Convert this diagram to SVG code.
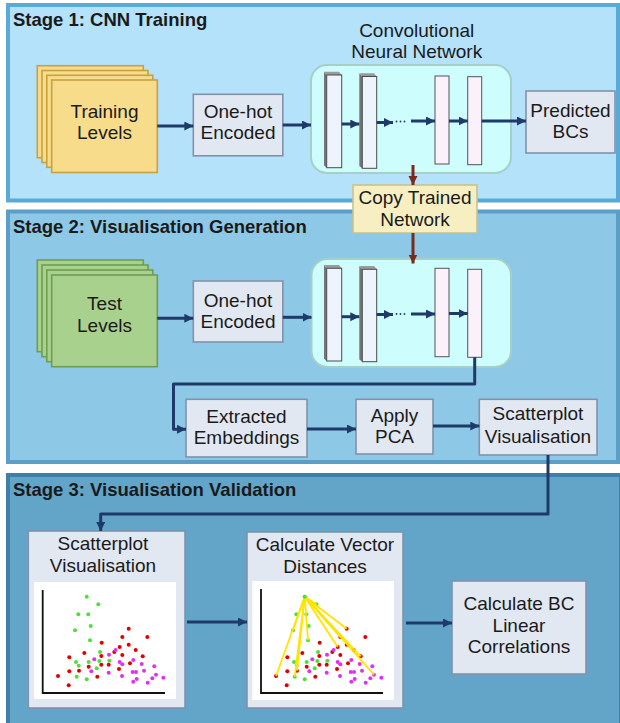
<svg xmlns="http://www.w3.org/2000/svg" xmlns:xlink="http://www.w3.org/1999/xlink" width="620" height="723" viewBox="0 0 620 723">
<style>
text{font-family:"Liberation Sans",Arial,sans-serif;fill:#1a1a1a;}
.t{font-size:19px;text-anchor:middle;}
.h{font-size:18.5px;font-weight:bold;}
.box{fill:#e2e8f1;stroke:#8292aa;stroke-width:1.6;}
.cnn{fill:#cdfdfd;stroke:#a6cfc6;stroke-width:2;}
.yl{fill:#f7dc8c;stroke:#c8a23c;stroke-width:1.6;}
.gr{fill:#a9d18e;stroke:#6e9e50;stroke-width:1.6;}
.lf{fill:#eef4fe;stroke:#4a4a4a;stroke-width:1;}
.ls{fill:#757575;}
.lt{fill:#9a9a9a;}
.lp{fill:#fbf1fb;stroke:#555;stroke-width:1;}
.c{fill:none;stroke:#1f3a68;stroke-width:3;}
.cr{fill:none;stroke:#7b2b1e;stroke-width:3;}
.r{fill:#e00000;}
.g{fill:#4ee03a;}
.m{fill:#dd33ee;}
.yline{stroke:#ffe400;stroke-width:1.8;}
.dot{fill:#1f3a68;}
</style>
<defs>
<marker id="ah" markerUnits="userSpaceOnUse" markerWidth="10" markerHeight="10" refX="9" refY="4.5" orient="auto">
<path d="M0,0 L9,4.5 L0,9 z" fill="#1f3a68"/>
</marker>
<marker id="ahr" markerUnits="userSpaceOnUse" markerWidth="10" markerHeight="10" refX="9" refY="4.5" orient="auto">
<path d="M0,0 L9,4.5 L0,9 z" fill="#7b2b1e"/>
</marker>
<g id="dots">
<circle class="g" cx="86.7" cy="596.7" r="2"/>
<circle class="g" cx="98.3" cy="604.3" r="2"/>
<circle class="g" cx="78.3" cy="614.3" r="2"/>
<circle class="g" cx="88.3" cy="614.3" r="2"/>
<circle class="g" cx="90.7" cy="626" r="2"/>
<circle class="g" cx="75" cy="630.3" r="2"/>
<circle class="g" cx="90" cy="640.3" r="2"/>
<circle class="g" cx="100" cy="652" r="2"/>
<circle class="g" cx="76" cy="662" r="2"/>
<circle class="g" cx="88.7" cy="662" r="2"/>
<circle class="g" cx="99.3" cy="661" r="2"/>
<circle class="g" cx="109.3" cy="660.7" r="2"/>
<circle class="g" cx="78.7" cy="665.7" r="2"/>
<circle class="g" cx="96.7" cy="668.3" r="2"/>
<circle class="g" cx="76.7" cy="676.7" r="2"/>
<circle class="g" cx="86.7" cy="679.3" r="2"/>
<circle class="r" cx="128.7" cy="628.7" r="2"/>
<circle class="r" cx="147.3" cy="637" r="2"/>
<circle class="r" cx="122.3" cy="637" r="2"/>
<circle class="r" cx="101.7" cy="642.7" r="2"/>
<circle class="r" cx="128.7" cy="644.7" r="2"/>
<circle class="r" cx="119.7" cy="647" r="2"/>
<circle class="r" cx="135.7" cy="650" r="2"/>
<circle class="r" cx="84.3" cy="653" r="2"/>
<circle class="r" cx="114.3" cy="652" r="2"/>
<circle class="r" cx="101.3" cy="656" r="2"/>
<circle class="r" cx="122.3" cy="655" r="2"/>
<circle class="r" cx="69.3" cy="657.3" r="2"/>
<circle class="r" cx="142.7" cy="656.3" r="2"/>
<circle class="r" cx="88.7" cy="666.7" r="2"/>
<circle class="r" cx="101.3" cy="664.7" r="2"/>
<circle class="r" cx="108.7" cy="664.7" r="2"/>
<circle class="r" cx="130" cy="663.3" r="2"/>
<circle class="r" cx="69.3" cy="671.3" r="2"/>
<circle class="r" cx="79" cy="670.7" r="2"/>
<circle class="r" cx="119" cy="669" r="2"/>
<circle class="r" cx="97.3" cy="676.7" r="2"/>
<circle class="r" cx="58" cy="676" r="2"/>
<circle class="r" cx="68.7" cy="685.3" r="2"/>
<circle class="m" cx="115.7" cy="650" r="2"/>
<circle class="m" cx="109" cy="654.7" r="2"/>
<circle class="m" cx="94.3" cy="659.3" r="2"/>
<circle class="m" cx="119.7" cy="662" r="2"/>
<circle class="m" cx="133.3" cy="660" r="2"/>
<circle class="m" cx="122.3" cy="664.3" r="2"/>
<circle class="m" cx="141.7" cy="664" r="2"/>
<circle class="m" cx="154.3" cy="666.3" r="2"/>
<circle class="m" cx="91.3" cy="671.3" r="2"/>
<circle class="m" cx="108.7" cy="672.7" r="2"/>
<circle class="m" cx="132.7" cy="672" r="2"/>
<circle class="m" cx="136" cy="672" r="2"/>
<circle class="m" cx="144" cy="670.7" r="2"/>
<circle class="m" cx="122" cy="676" r="2"/>
<circle class="m" cx="156" cy="674.7" r="2"/>
<circle class="m" cx="163.3" cy="677.7" r="2"/>
<circle class="m" cx="152.3" cy="678.3" r="2"/>
<circle class="m" cx="136.7" cy="679" r="2"/>
<circle class="m" cx="133.3" cy="681.7" r="2"/>
<circle class="m" cx="147.7" cy="682.7" r="2"/>
</g>
</defs>

<!-- stage panels -->
<g id="stage1">
<rect x="8" y="5" width="610" height="195.5" fill="#b4e2fa" stroke="#58aad8" stroke-width="4"/>
<text class="h" x="13" y="26">Stage 1: CNN Training</text>
</g>
<g id="stage2">
<rect x="8" y="211.5" width="610" height="250.5" fill="#8dc8e6" stroke="#5b9fc9" stroke-width="4"/>
<text class="h" x="13" y="233">Stage 2: Visualisation Generation</text>
</g>
<g id="stage3">
<rect x="8" y="475" width="613" height="260" fill="#62a5c8" stroke="#3e7ea7" stroke-width="4"/>
<text class="h" x="13" y="496">Stage 3: Visualisation Validation</text>
</g>

<!-- Stage 1 nodes -->
<g id="training-levels">
<rect class="yl" x="37.3" y="65.7" width="106" height="92"/>
<rect class="yl" x="42" y="70.5" width="106" height="92"/>
<rect class="yl" x="46.8" y="75.3" width="106" height="92"/>
<rect class="yl" x="51.7" y="80" width="105.6" height="92.5"/>
<text class="t" x="104.5" y="118">Training</text>
<text class="t" x="104.5" y="139">Levels</text>
</g>
<g id="onehot1">
<rect class="box" x="193.3" y="94.3" width="89.5" height="61.5"/>
<text class="t" x="238" y="117.7">One-hot</text>
<text class="t" x="238" y="139.3">Encoded</text>
</g>
<g id="cnn1">
<text class="t" x="416.7" y="36.7">Convolutional</text>
<text class="t" x="416.7" y="58.3">Neural Network</text>
<rect class="cnn" x="311" y="65" width="200" height="108" rx="16"/>
<polygon class="ls" points="324,71.7 326.7,75 326.7,167.7 324,165.5"/>
<polygon class="lt" points="324,71.7 339,71.7 341.7,75 326.7,75"/>
<rect class="lf" x="326.7" y="75" width="15" height="92.7"/>
<polygon class="ls" points="359.3,73.3 362.3,76.5 362.3,168.3 359.3,166"/>
<polygon class="lt" points="359.3,73.3 374,73.3 376.7,76.5 362.3,76.5"/>
<rect class="lf" x="362.3" y="76.5" width="14.4" height="91.8"/>
<rect class="lp" x="435" y="76" width="14" height="88"/>
<rect class="lp" x="467.7" y="76.7" width="14" height="88"/>
</g>
<g id="predicted-bcs">
<rect class="box" x="526" y="91" width="89" height="62"/>
<text class="t" x="570.5" y="116.7">Predicted</text>
<text class="t" x="570.5" y="137.5">BCs</text>
</g>
<g id="copy-trained">
<rect x="353" y="185" width="124" height="48" fill="#f7efc2" stroke="#c9c28e" stroke-width="1.6"/>
<text class="t" x="415" y="203.5">Copy Trained</text>
<text class="t" x="415" y="226">Network</text>
</g>

<!-- Stage 2 nodes -->
<g id="test-levels">
<rect class="gr" x="37.3" y="260" width="106" height="91.7"/>
<rect class="gr" x="42" y="265" width="106" height="91.7"/>
<rect class="gr" x="46.8" y="270" width="106" height="91.7"/>
<rect class="gr" x="51.7" y="275" width="105.6" height="91.7"/>
<text class="t" x="104.5" y="310">Test</text>
<text class="t" x="104.5" y="331.7">Levels</text>
</g>
<g id="onehot2">
<rect class="box" x="193.3" y="281" width="89.5" height="61"/>
<text class="t" x="238" y="306.7">One-hot</text>
<text class="t" x="238" y="328.3">Encoded</text>
</g>
<g id="cnn2">
<rect class="cnn" x="311.5" y="259" width="199.5" height="108" rx="16"/>
<polygon class="ls" points="324,265 326.7,268.3 326.7,361 324,358.8"/>
<polygon class="lt" points="324,265 339,265 341.7,268.3 326.7,268.3"/>
<rect class="lf" x="326.7" y="268.3" width="15" height="92.7"/>
<polygon class="ls" points="359.3,266 362.3,269.3 362.3,361.7 359.3,359.5"/>
<polygon class="lt" points="359.3,266 374,266 376.7,269.3 362.3,269.3"/>
<rect class="lf" x="362.3" y="269.3" width="14.4" height="92.4"/>
<rect class="lp" x="435" y="268.3" width="14" height="88.4"/>
<rect class="lp" x="467.7" y="269.3" width="14" height="88"/>
</g>
<g id="extracted-embeddings">
<rect class="box" x="186" y="399.3" width="121" height="57.7"/>
<text class="t" x="246.5" y="422.7">Extracted</text>
<text class="t" x="246.5" y="444.3">Embeddings</text>
</g>
<g id="apply-pca">
<rect class="box" x="356" y="399.3" width="77" height="54.7"/>
<text class="t" x="394.5" y="421.7">Apply</text>
<text class="t" x="394.5" y="443">PCA</text>
</g>
<g id="scatter-vis2">
<rect class="box" x="479.3" y="399.3" width="117.7" height="55.7"/>
<text class="t" x="538" y="420">Scatterplot</text>
<text class="t" x="538" y="442.7">Visualisation</text>
</g>

<!-- Stage 3 nodes -->
<g id="scatter-vis3">
<rect class="box" x="28.3" y="531" width="156.7" height="177"/>
<text class="t" x="103" y="550">Scatterplot</text>
<text class="t" x="103" y="571.7">Visualisation</text>
<rect x="34" y="582" width="142" height="117" fill="#fff"/>
<path d="M42.7,590 V693 H165" fill="none" stroke="#111" stroke-width="1.8"/>
<use xlink:href="#dots" href="#dots"/>
</g>
<g id="vector-distances">
<rect class="box" x="247" y="532" width="156" height="176"/>
<text class="t" x="325" y="550.7">Calculate Vector</text>
<text class="t" x="325" y="572.7">Distances</text>
<rect x="252.3" y="581" width="141.7" height="119" fill="#fff"/>
<path d="M261,589 V693 H383" fill="none" stroke="#111" stroke-width="1.8"/>
<use xlink:href="#dots" href="#dots" transform="translate(218,0)"/>
<g class="yline">
<line x1="304.7" y1="596.7" x2="276" y2="676"/>
<line x1="304.7" y1="596.7" x2="293" y2="630.3"/>
<line x1="304.7" y1="596.7" x2="294.7" y2="676.7"/>
<line x1="304.7" y1="596.7" x2="297" y2="670.7"/>
<line x1="304.7" y1="596.7" x2="308" y2="640.3"/>
<line x1="304.7" y1="596.7" x2="316.3" y2="604.3"/>
<line x1="304.7" y1="596.7" x2="346.7" y2="628.7"/>
<line x1="304.7" y1="596.7" x2="340.3" y2="637"/>
<line x1="304.7" y1="596.7" x2="337.7" y2="647"/>
<line x1="304.7" y1="596.7" x2="360.7" y2="656.3"/>
<line x1="304.7" y1="596.7" x2="374" y2="674.7"/>
</g>
<circle class="g" cx="304.7" cy="596.7" r="2"/>
</g>
<g id="bc-correlations">
<rect class="box" x="452" y="581" width="134" height="93"/>
<text class="t" x="519" y="610">Calculate BC</text>
<text class="t" x="519" y="631.7">Linear</text>
<text class="t" x="519" y="653">Correlations</text>
</g>

<!-- connectors -->
<g id="connectors">
<line class="c" x1="157.3" y1="126" x2="193.3" y2="126" marker-end="url(#ah)"/>
<line class="c" x1="282.8" y1="125" x2="311" y2="125" marker-end="url(#ah)"/>
<line class="c" x1="341.7" y1="124" x2="359.3" y2="124" marker-end="url(#ah)"/>
<line class="c" x1="376.7" y1="122.5" x2="393" y2="122.5" marker-end="url(#ah)"/>
<circle class="dot" cx="396.5" cy="121.5" r="0.9"/>
<circle class="dot" cx="400.5" cy="121.5" r="0.9"/>
<circle class="dot" cx="404.5" cy="121.5" r="0.9"/>
<line class="c" x1="411" y1="121" x2="435" y2="121" marker-end="url(#ah)"/>
<line class="c" x1="449" y1="121" x2="467.7" y2="121" marker-end="url(#ah)"/>
<line class="c" x1="481.7" y1="121" x2="526" y2="121" marker-end="url(#ah)"/>
<line class="cr" x1="413" y1="165" x2="413" y2="185" marker-end="url(#ahr)"/>
<line class="cr" x1="413" y1="233" x2="413" y2="263.5" marker-end="url(#ahr)"/>
<line class="c" x1="157.3" y1="318.3" x2="193.3" y2="318.3" marker-end="url(#ah)"/>
<line class="c" x1="282.8" y1="317.3" x2="311.5" y2="317.3" marker-end="url(#ah)"/>
<line class="c" x1="341.7" y1="316.7" x2="359.3" y2="316.7" marker-end="url(#ah)"/>
<line class="c" x1="376.7" y1="314.5" x2="393" y2="314.5" marker-end="url(#ah)"/>
<circle class="dot" cx="396.5" cy="314" r="0.9"/>
<circle class="dot" cx="400.5" cy="314" r="0.9"/>
<circle class="dot" cx="404.5" cy="314" r="0.9"/>
<line class="c" x1="411" y1="314" x2="435" y2="314" marker-end="url(#ah)"/>
<line class="c" x1="449" y1="313.5" x2="467.7" y2="313.5" marker-end="url(#ah)"/>
<path class="c" d="M474.7,357.3 V384 H173.5 V429.3 H186" stroke-linejoin="round" marker-end="url(#ah)"/>
<line class="c" x1="307" y1="429" x2="356" y2="429" marker-end="url(#ah)"/>
<line class="c" x1="433" y1="426" x2="479.3" y2="426" marker-end="url(#ah)"/>
<path class="c" d="M548,455 V514 H100.7 V531" stroke-linejoin="round" marker-end="url(#ah)"/>
<line class="c" x1="187" y1="622" x2="247" y2="622" marker-end="url(#ah)"/>
<line class="c" x1="406" y1="623" x2="452" y2="623" marker-end="url(#ah)"/>
</g>
</svg>
